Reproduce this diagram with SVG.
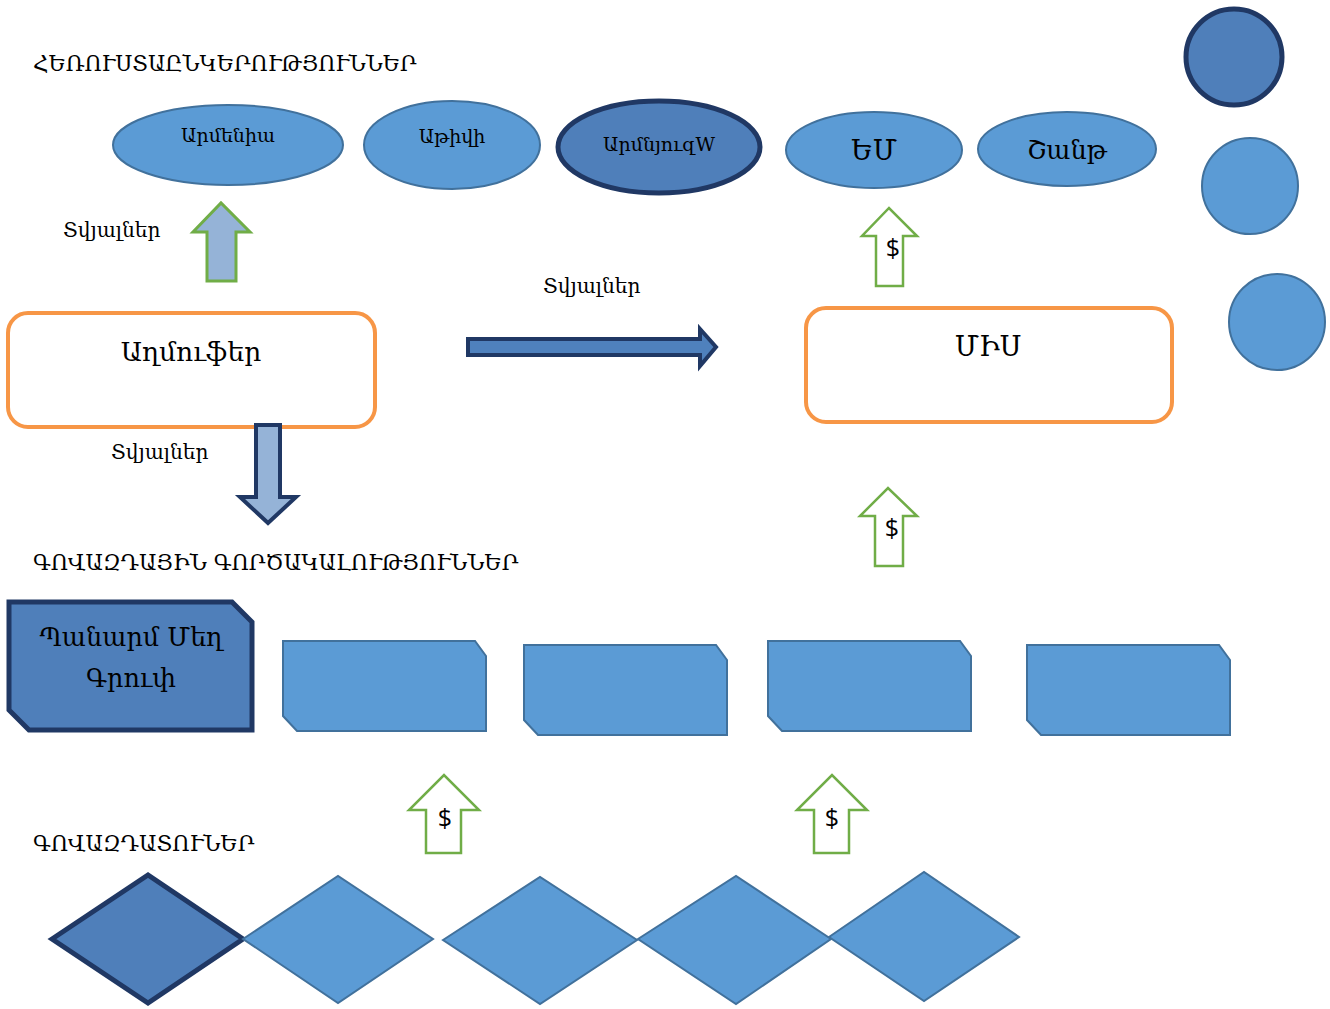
<svg xmlns="http://www.w3.org/2000/svg" width="1330" height="1009" viewBox="0 0 1330 1009">
<style>
.t{font-family:"DejaVu Serif","Noto Sans",serif;fill:#000}
.d{font-family:"Open Sans","Liberation Sans",sans-serif;fill:#000;font-size:25px;text-anchor:middle}
.n{fill:#5B9BD5;stroke:#41719C;stroke-width:2}
.dk{fill:#4F7FBA;stroke:#203864;stroke-width:5}
.rr{fill:#fff;stroke:#F79646;stroke-width:4}
.ga{fill:#fff;stroke:#70AD47;stroke-width:2.5}
.m{text-anchor:middle}
</style>
<rect width="1330" height="1009" fill="#fff"/>
<g id="headings">
<text class="t" x="33" y="71" font-size="21.4">ՀԵՌՈՒՍՏԱԸՆԿԵՐՈՒԹՅՈՒՆՆԵՐ</text>
<text class="t" x="33" y="570" font-size="21.6">ԳՈՎԱԶԴԱՅԻՆ ԳՈՐԾԱԿԱԼՈՒԹՅՈՒՆՆԵՐ</text>
<text class="t" x="33" y="851" font-size="21.6">ԳՈՎԱԶԴԱՏՈՒՆԵՐ</text>
</g>
<g id="tv1"><ellipse class="n" cx="228" cy="145" rx="115" ry="40"/><text class="t m" x="228" y="142" font-size="19">Արմենիա</text></g>
<g id="tv2"><ellipse class="n" cx="452" cy="145" rx="88" ry="44"/><text class="t m" x="452" y="143" font-size="19">Աթիվի</text></g>
<g id="tv3"><ellipse class="dk" cx="659" cy="147" rx="101" ry="46"/><text class="t m" x="659" y="151" font-size="19">ԱրմնյուզW</text></g>
<g id="tv4"><ellipse class="n" cx="874" cy="150" rx="88" ry="38"/><text class="t m" x="874" y="160" font-size="27">ԵՄ</text></g>
<g id="tv5"><ellipse class="n" cx="1067" cy="149" rx="89" ry="37"/><text class="t m" x="1067" y="159" font-size="25.5">Շանթ</text></g>
<g id="c1"><circle class="dk" cx="1234" cy="57" r="48"/></g>
<g id="c2"><circle class="n" cx="1250" cy="186" r="48"/></g>
<g id="c3"><circle class="n" cx="1277" cy="322" r="48"/></g>
<g id="src"><rect class="rr" x="8" y="313" width="367" height="114" rx="20"/><text class="t m" x="191" y="361" font-size="26.5">Աղմուֆեր</text></g>
<g id="mis"><rect class="rr" x="806" y="308" width="366" height="114" rx="20"/><text class="t m" x="988" y="356" font-size="27">ՄԻՍ</text></g>
<g id="ag1"><path class="dk" d="M9,602 H232 L252,622 V730 H29 L9,710 Z" stroke-width="4"/><text class="t m" x="131" y="646" font-size="25.5">Պանարմ Մեղ</text><text class="t m" x="131" y="687" font-size="25.5">Գրուփ</text></g>
<g id="ag2"><path class="n" d="M283,641 H475 L486,656 V731 H297 L283,716 Z"/></g>
<g id="ag3"><path class="n" d="M524,645 H716 L727,660 V735 H538 L524,720 Z"/></g>
<g id="ag4"><path class="n" d="M768,641 H960 L971,656 V731 H782 L768,716 Z"/></g>
<g id="ag5"><path class="n" d="M1027,645 H1219 L1230,660 V735 H1041 L1027,720 Z"/></g>
<g id="ad1"><path class="dk" d="M52,939 L148,875 L243,939 L148,1003 Z"/></g>
<g id="ad2"><path class="n" d="M243,939 L338,876 L433,939 L338,1003 Z"/></g>
<g id="ad3"><path class="n" d="M443,940 L540,877 L637,940 L540,1004 Z"/></g>
<g id="ad4"><path class="n" d="M638,939 L736,876 L831,939 L736,1004 Z"/></g>
<g id="ad5"><path class="n" d="M829,937 L924,872 L1019,937 L924,1001 Z"/></g>
<g id="connectors">
<path d="M207,281 V232 H193 L221,203 L250,232 H236 V281 Z" fill="#95B3D7" stroke="#70AD47" stroke-width="3"/>
<path d="M256,425 V497 H240 L268,523 L296,497 H280 V425 Z" fill="#95B3D7" stroke="#203864" stroke-width="4"/>
<path d="M468,339 H700 V329 L716,347 L700,366 V355 H468 Z" fill="#4F81BD" stroke="#203864" stroke-width="4"/>
<text class="t" x="63" y="237" font-size="20.2">Տվյալներ</text>
<text class="t" x="543" y="293" font-size="20.2">Տվյալներ</text>
<text class="t" x="111" y="459" font-size="20.2">Տվյալներ</text>
<path class="ga" d="M876,286 V236 H862 L889,208 L917,236 H903 V286 Z"/>
<text class="d" x="893" y="257">$</text>
<path class="ga" d="M875,566 V516 H860 L888,488 L917,516 H903 V566 Z"/>
<text class="d" x="892" y="537">$</text>
<path class="ga" d="M426,853 V810 H409 L444,775 L479,810 H461 V853 Z"/>
<text class="d" x="445" y="827">$</text>
<path class="ga" d="M814,853 V810 H797 L832,775 L867,810 H849 V853 Z"/>
<text class="d" x="832" y="827">$</text>
</g>
</svg>
